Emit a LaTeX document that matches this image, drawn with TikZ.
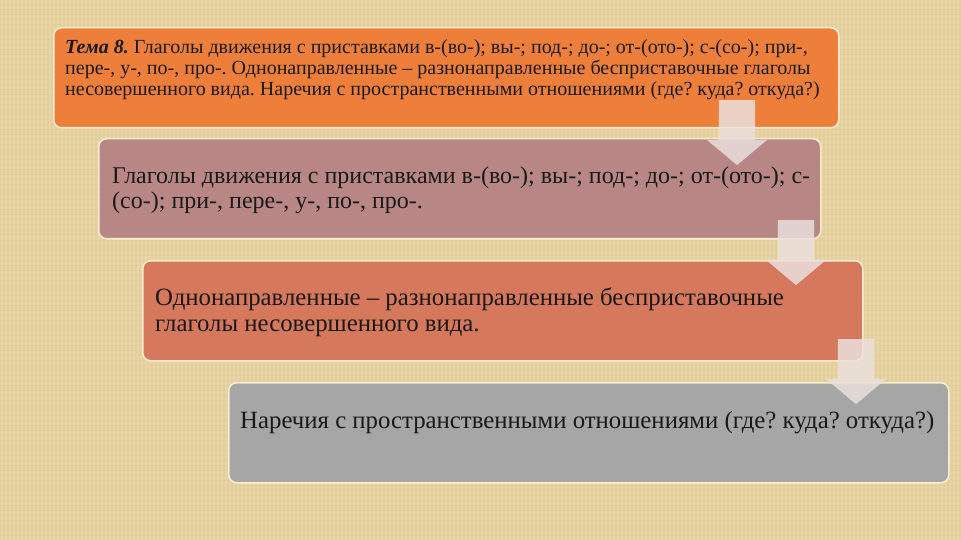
\documentclass[tikz,border=0pt]{standalone}
\usepackage{fontspec}
\setmainfont{Liberation Serif}
\frenchspacing
\usetikzlibrary{shapes.arrows}

\definecolor{linen}{RGB}{233,214,164}
\definecolor{thread}{RGB}{170,140,80}
\definecolor{topic}{RGB}{238,127,58}
\definecolor{rose}{RGB}{184,135,133}
\definecolor{clay}{RGB}{213,120,91}
\definecolor{ash}{RGB}{166,166,166}
\definecolor{rim}{RGB}{248,236,210}
\definecolor{pale}{RGB}{234,224,221}

\tikzset{
  stepbox/.style={draw=rim, line width=1.5pt, rounded corners=8pt, inner sep=0pt,
    minimum height=100pt, anchor=north west},
  steptext/.style={anchor=north west, inner sep=0pt, align=left, text=black!90},
  steparrow/.style={single arrow, rotate=-90, fill=pale, fill opacity=0.85,
    draw=none, inner sep=18pt, single arrow head extend=12pt,
    single arrow tip angle=100, minimum height=65pt}
}

\begin{document}
\begin{tikzpicture}[x=1pt,y=-1pt]
	\useasboundingbox (0,0) rectangle (961,540);
	\fill[linen] (0,0) rectangle (961,540);
	% linen weave
	\foreach \x in {0,4,...,960}
		\draw[thread, line width=1.3pt, opacity=0.07] (\x,0) -- (\x,540);
	\foreach \y in {0,5,...,540}
		\draw[thread, line width=1pt, opacity=0.06] (0,\y) -- (961,\y);

	% steps
	\node[stepbox, fill=topic, minimum width=785pt] (b1) at (53,27) {};
	\node[stepbox, fill=rose, minimum width=722pt] (b2) at (98,138) {};
	\node[stepbox, fill=clay, minimum width=720pt] (b3) at (142,260) {};
	\node[stepbox, fill=ash, minimum width=720pt] (b4) at (228,382) {};

	\node[steptext, font=\fontsize{20}{21.2}\selectfont, xshift=12pt, yshift=-12.5pt] (t1) at (b1.north west)
		{\textbf{\textit{Тема 8.}} Глаголы движения с приставками в-(во-); вы-; под-; до-; от-(ото-); с-(со-); при-,\\
		 пере-, у-, по-, про-. Однонаправленные – разнонаправленные бесприставочные глаголы\\
		 несовершенного вида. Наречия с пространственными отношениями (где? куда? откуда?)};
	\node[steptext, font=\fontsize{24}{25.5}\selectfont, xshift=14pt, yshift=-28.3pt] (t2) at (b2.north west)
		{Глаголы движения с приставками в-(во-); вы-; под-; до-; от-(ото-); с-\\
		 (со-); при-, пере-, у-, по-, про-.};
	\node[steptext, font=\fontsize{24.8}{25.5}\selectfont, xshift=13pt, yshift=-27.8pt] (t3) at (b3.north west)
		{Однонаправленные – разнонаправленные бесприставочные\\
		 глаголы несовершенного вида.};
	\node[steptext, font=\fontsize{24.8}{25.5}\selectfont, xshift=12pt, yshift=-28.8pt] (t4) at (b4.north west)
		{Наречия с пространственными отношениями (где? куда? откуда?)};

	% arrows between steps
	\node[steparrow] (a1) at (737,125) {};
	\node[steparrow] (a2) at (796,245) {};
	\node[steparrow] (a3) at (856,364) {};
\end{tikzpicture}
\end{document}
